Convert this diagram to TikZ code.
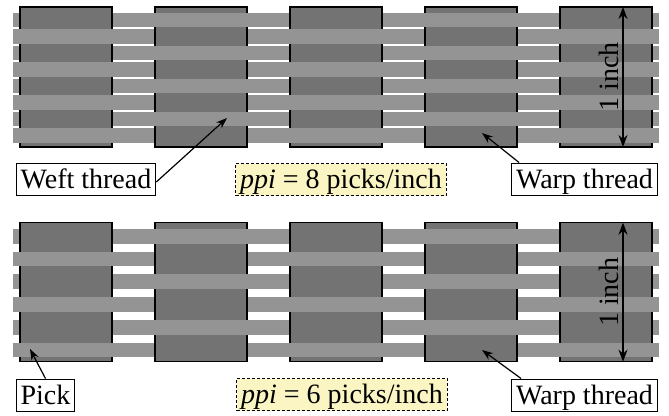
\documentclass[tikz,border=0pt]{standalone}
\usepackage{fontspec}
\setmainfont{Liberation Serif}
\newfontfamily\labelfont{Liberation Serif}
\usetikzlibrary{arrows.meta,positioning}
\definecolor{warpgray}{RGB}{115,115,115}
\definecolor{weftgray}{RGB}{148,148,148}
\definecolor{ppiyellow}{RGB}{250,245,195}

\begin{document}
\begin{tikzpicture}[x=1pt, y=-1pt,
  warp/.style={fill=warpgray, draw=black, line width=1.2pt},
  weft/.style={fill=weftgray},
  lbl/.style={draw, line width=0.9pt, fill=white, font=\labelfont\fontsize{28}{32}\selectfont,
    inner xsep=4.5pt, inner ysep=2pt, text height=23pt, text depth=5pt},
  ppibox/.style={lbl, fill=ppiyellow, dash pattern=on 3pt off 2pt},
  pointer/.style={line width=1.2pt, -{Stealth[length=11pt,width=8pt]}},
  dim/.style={line width=1.3pt, {Stealth[length=12pt,width=9pt]}-{Stealth[length=12pt,width=9pt]}},
  inchlbl/.style={rotate=90, anchor=south, inner sep=4pt, font=\labelfont\fontsize{28}{32}\selectfont}]

\useasboundingbox (0,0) rectangle (669,415);

% top weave, 8 picks
\foreach \i in {0,...,7}
  \fill[weft] (13,12.7+16.47*\i) rectangle (659,27.3+16.47*\i);
\foreach \j in {0,...,4}
  \draw[warp] (20+135*\j,7) rectangle (112+135*\j,147);
\foreach \i in {0,...,7}
  \foreach \j in {0,...,4} {
    \pgfmathtruncatemacro\over{mod(\i+\j,2)}
    \ifnum\over=1
      \fill[weft] (19+135*\j,12.7+16.47*\i) rectangle (113+135*\j,27.3+16.47*\i);
    \fi
  }

% bottom weave, 6 picks
\foreach \i in {0,...,5}
  \fill[weft] (13,229+22.74*\i) rectangle (659,243.6+22.74*\i);
\foreach \j in {0,...,4}
  \draw[warp] (20+135*\j,222.7) rectangle (112+135*\j,361.7);
\foreach \i in {0,...,5}
  \foreach \j in {0,...,4} {
    \pgfmathtruncatemacro\over{mod(\i+\j,2)}
    \ifnum\over=1
      \fill[weft] (19+135*\j,229+22.74*\i) rectangle (113+135*\j,243.6+22.74*\i);
    \fi
  }

% dimensions
\coordinate (inchtopA) at (623,7);
\coordinate (inchbotA) at (623,147);
\coordinate (inchtopB) at (623,222.7);
\coordinate (inchbotB) at (623,361.7);
\draw[dim] (inchbotA) -- node[inchlbl] {1 inch} (inchtopA);
\draw[dim] (inchbotB) -- node[inchlbl] {1 inch} (inchtopB);

% labels
\node[lbl] (weft) at (86,179) {Weft thread};
\node[ppibox] (ppitop) at (341,179.5) {\textit{ppi} = 8 picks/inch};
\node[lbl] (warptop) at (584.5,179) {Warp thread};
\node[lbl] (pick) at (45.5,395) {Pick};
\node[ppibox] (ppibot) at (342,394.5) {\textit{ppi} = 6 picks/inch};
\node[lbl] (warpbot) at (584.5,395) {Warp thread};

\coordinate (wefttip) at (227,118);
\coordinate (warptoptip) at (482,133);
\coordinate (picktip) at (30,349);
\coordinate (warpbottip) at (482,350);

\draw[pointer] ([yshift=-3pt]weft.east) -- (wefttip);
\draw[pointer] ([xshift=8pt]warptop.north west) -- (warptoptip);
\draw[pointer] (pick.north) -- (picktip);
\draw[pointer] ([xshift=10pt]warpbot.north west) -- (warpbottip);
\end{tikzpicture}
\end{document}
